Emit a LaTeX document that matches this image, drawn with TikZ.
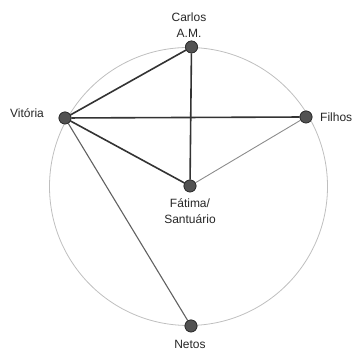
\documentclass[tikz,border=0pt]{standalone}
\usepackage{fontspec}
\setmainfont{Liberation Sans}
\begin{document}
\begin{tikzpicture}[x=1pt,y=1pt,
  dot/.style={circle,fill=black!68,draw=black!82,line width=0.7pt,minimum size=12pt,inner sep=0pt},
  lbl/.style={font=\fontsize{12}{15.5}\selectfont,text=black!85,align=center,inner sep=0pt},
  strong/.style={draw=black!80,line width=1.6pt},
  weak/.style={draw=black!45,line width=0.9pt},
  mid/.style={draw=black!62,line width=1.1pt}]
\useasboundingbox (0,0) rectangle (357,352);
\draw[black!25,line width=0.8pt] (188.5,165.5) circle (139);
\node[dot] (carlos) at (191.5,305) {};
\node[dot] (vitoria) at (65,234) {};
\node[dot] (filhos) at (306,235) {};
\node[dot] (fatima) at (190,166) {};
\node[dot] (netos) at (191,26) {};
\draw[strong] (carlos) -- (vitoria);
\draw[strong] (carlos) -- (fatima);
\draw[strong] (vitoria) -- (filhos);
\draw[strong] (vitoria) -- (fatima);
\draw[weak] (filhos) -- (fatima);
\draw[mid] (vitoria) -- (netos);
\node[dot] at (carlos) {};
\node[dot] at (vitoria) {};
\node[dot] at (filhos) {};
\node[dot] at (fatima) {};
\node[dot] at (netos) {};
\node[lbl] (lcarlos) at (189,327) {Carlos\\A.M.};
\node[lbl] (lvitoria) at (27,239) {Vitória};
\node[lbl,anchor=west] (lfilhos) at (320,235) {Filhos};
\node[lbl] (lfatima) at (190,141) {Fátima/\\Santuário};
\node[lbl] (lnetos) at (190,8) {Netos};
\end{tikzpicture}
\end{document}
